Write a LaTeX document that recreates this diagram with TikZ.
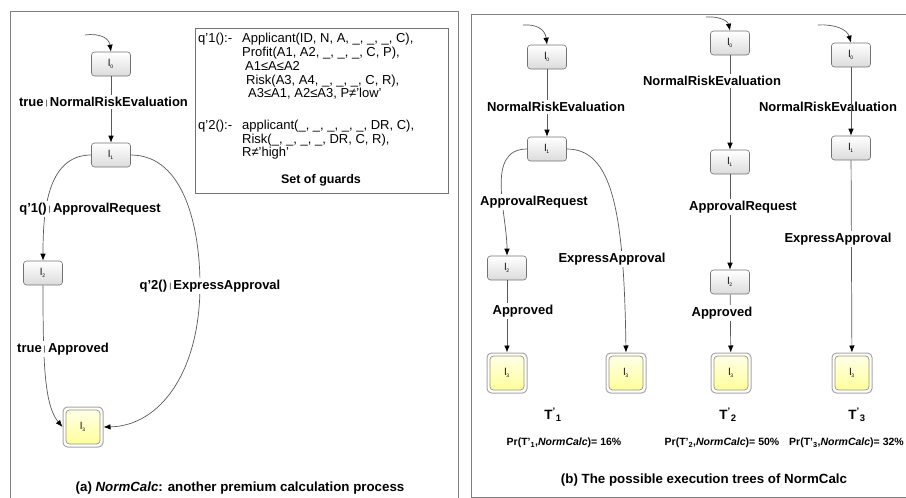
\documentclass[tikz,border=0pt]{standalone}
\usepackage{fontspec}
\setmainfont{Liberation Sans}
\usetikzlibrary{arrows.meta,shadings}

% state label: l with a tiny index
\newcommand\stname[1]{{\fontsize{10}{10}\selectfont l\textsubscript{\fontsize{5}{5}\selectfont #1}}}
% thin separator between guard and action
\newcommand\gsep{\,\raisebox{0.4pt}{\fontsize{7.5}{7.5}\selectfont\mdseries|}\,}

\tikzset{
  frame/.style={draw=black!50, line width=1pt},
  state/.style={draw=black!55, line width=0.6pt, rounded corners=3pt,
    minimum width=39pt, minimum height=24pt, inner sep=0pt,
    top color=white, bottom color=black!14},
  finalstate/.style={draw=black!35, line width=1pt, rounded corners=4.5pt,
    minimum width=40pt, minimum height=40pt, inner sep=0pt, fill=white,
    path picture={\shade[top color=yellow!6, bottom color=yellow!42!white,
      draw=olive!45!black!60, line width=0.7pt, rounded corners=3.5pt]
      ([shift={(3pt,-3pt)}]path picture bounding box.north west) rectangle
      ([shift={(-3pt,3pt)}]path picture bounding box.south east);}},
  conn/.style={draw=black!65, line width=0.7pt,
    -{Latex[length=7pt,width=5.5pt,color=black]}},
  lab/.style={font=\bfseries\fontsize{13}{15}\selectfont, fill=white, inner sep=2pt},
  labplain/.style={font=\bfseries\fontsize{13}{15}\selectfont, inner sep=2pt},
  gline/.style={font=\fontsize{13}{13.5}\selectfont, anchor=base west, inner sep=0pt},
  treename/.style={font=\bfseries\fontsize{13.5}{16}\selectfont},
  prob/.style={font=\bfseries\fontsize{10.5}{12}\selectfont},
  caption/.style={font=\bfseries\fontsize{13.3}{15}\selectfont},
}

\begin{document}
\begin{tikzpicture}[x=1pt,y=-1pt]
\useasboundingbox (0,0) rectangle (906,498);

% panel frames
\draw[frame] (10,502) -- (10,11) -- (458,11) -- (458,502);
\draw[frame] (910,497) -- (471,497) -- (471,14) -- (910,14);

% ---------- (a) NormCalc ----------
\node[state] (a0) at (111,64) {\stname{0}};
\node[state] (a1) at (111,155) {\stname{1}};
\node[state] (a2) at (43,273) {\stname{2}};
\node[finalstate] (a3) at (83,427) {\stname{3}};
\coordinate (as) at (85,35);

\draw[conn] (as) .. controls (100,33) and (109,38) .. (a0.north);
\draw[conn] (a0) -- (a1);
\draw[conn] (a1.west) to[out=180,in=90] (a2.north);
\draw[conn] (a2.south) .. controls (43,360) and (44,405) .. (a3.west);
\draw[conn] (a1.east) .. controls (185,155) and (200,230) .. (200,285)
                      .. controls (200,372) and (160,426) .. (a3.east);

\node[lab] (la1) at (103.5,102) {true\gsep NormalRiskEvaluation};
\node[lab] (la2) at (90,209) {q'1()\gsep ApprovalRequest};
\node[lab] (la3) at (63,349) {true\gsep Approved};
\node[lab] (la4) at (210,286) {q'2()\gsep ExpressApproval};

% set of guards
\node[draw=black!55, line width=0.7pt, minimum width=253pt, minimum height=165pt,
      anchor=north west, inner sep=0pt] (gbox) at (195,28) {};
\node[gline] (g1h) at (198,42.5) {q'1():-};
\node[gline] (g1a) at (242,42.5) {Applicant(ID, N, A, \_, \_, \_, C),};
\node[gline] (g1b) at (242,56) {Profit(A1, A2, \_, \_, \_, C, P),};
\node[gline] (g1c) at (245,70) {A1≤A≤A2};
\node[gline] (g1d) at (246,84) {Risk(A3, A4, \_, \_, \_, C, R),};
\node[gline] (g1e) at (248,97.5) {A3≤A1, A2≤A3, P≠'low'};
\node[gline] (g2h) at (198,129.5) {q'2():-};
\node[gline] (g2a) at (242,129.5) {applicant(\_, \_, \_, \_, \_, DR, C),};
\node[gline] (g2b) at (242,143) {Risk(\_, \_, \_, \_, DR, C, R),};
\node[gline] (g2c) at (242,156.5) {R≠'high'};
\node[font=\bfseries\fontsize{12.5}{14}\selectfont] (gt) at (321,180) {Set of guards};

\node[caption] (capa) at (240,488) {(a) \textit{NormCalc}: another premium calculation process};

% ---------- (b) execution trees ----------
% tree T1
\node[state] (b0) at (547,57) {\stname{0}};
\node[state] (b1) at (547,149) {\stname{1}};
\node[state] (b2) at (507,268) {\stname{2}};
\node[finalstate] (b3) at (507,373) {\stname{3}};
\node[finalstate] (b4) at (626,373) {\stname{3}};
\coordinate (bs) at (523,25);
\draw[conn] (bs) .. controls (536,24) and (545,29) .. (b0.north);
\draw[conn] (b0) -- (b1);
\draw[conn] (b1.west) to[out=180,in=90] (b2.north);
\draw[conn] (b2) -- (b3);
\draw[conn] (b1.east) .. controls (612,149) and (624,210) .. (b4.north);
\node[lab] (lb1) at (556,107) {NormalRiskEvaluation};
\node[lab] (lb2) at (534,202) {ApprovalRequest};
\node[lab] (lb3) at (523,311) {Approved};
\node[lab] (lb4) at (612,259) {ExpressApproval};
\node[treename] (tb) at (553,415) {T\textsuperscript{'}\textsubscript{1}};
\node[prob] (pb) at (564,443) {Pr(T'\textsubscript{1},\textit{NormCalc})= 16\%};

% tree T2
\node[state] (c0) at (730,43) {\stname{0}};
\node[state] (c1) at (730,162) {\stname{1}};
\node[state] (c2) at (730,282) {\stname{2}};
\node[finalstate] (c3) at (731,373) {\stname{3}};
\coordinate (cs) at (706,17);
\draw[conn] (cs) .. controls (719,16) and (728,21) .. (c0.north);
\draw[conn] (c0) -- (c1);
\draw[conn] (c1) -- (c2);
\draw[conn] (c2) -- (c3);
\node[lab] (lc1) at (712,81) {NormalRiskEvaluation};
\node[lab] (lc2) at (743,207) {ApprovalRequest};
\node[lab] (lc3) at (722,313) {Approved};
\node[treename] (tc) at (728,415) {T\textsuperscript{'}\textsubscript{2}};
\node[prob] (pc) at (722,443) {Pr(T'\textsubscript{2},\textit{NormCalc})= 50\%};

% tree T3
\node[state] (d0) at (851,55) {\stname{0}};
\node[state] (d1) at (851,148) {\stname{1}};
\node[finalstate] (d3) at (852,373) {\stname{3}};
\coordinate (ds) at (818,25);
\draw[conn] (ds) .. controls (834,24) and (847,29) .. (d0.north);
\node[labplain] (ld1) at (828,107) {NormalRiskEvaluation};
\draw[conn] (d0) -- (d1);
\draw[conn] (d1) -- (d3);
\node[lab] (ld2) at (838,239) {ExpressApproval};
\node[treename] (td) at (857,415) {T\textsuperscript{'}\textsubscript{3}};
\node[prob, anchor=east, inner sep=1pt] (pd) at (905,443) {Pr(T'\textsubscript{3},\textit{NormCalc})= 32\%};

\node[caption] (capb) at (704,480) {(b) The possible execution trees of NormCalc};
\end{tikzpicture}
\end{document}
